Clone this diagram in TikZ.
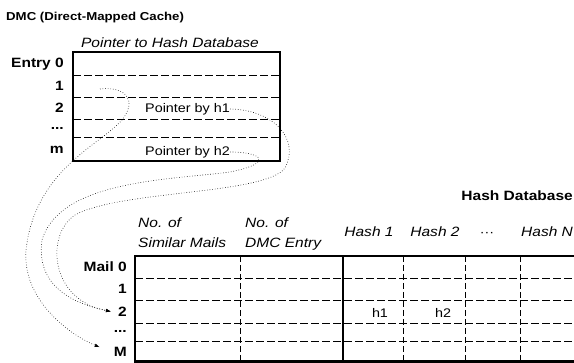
\documentclass[tikz,border=0pt]{standalone}
\usepackage{fontspec}
\setmainfont{Liberation Sans}
\newfontfamily\widefont[FakeStretch=1.15]{Liberation Sans}
\usetikzlibrary{arrows.meta}

\begin{document}
\begin{tikzpicture}[x=1pt,y=-1pt,
  frame/.style={line width=2.5pt},
  rowline/.style={line width=0.8pt,dash pattern=on 7.5pt off 3.5pt},
  colline/.style={line width=0.8pt,dash pattern=on 6pt off 3pt},
  lab/.style={font=\widefont\fontsize{13.5}{15}\selectfont\bfseries,anchor=east,inner sep=0pt},
  head/.style={font=\widefont\fontsize{13.5}{20}\selectfont\itshape,anchor=west,inner sep=0pt,align=left},
  txt/.style={font=\widefont\fontsize{12.5}{15}\selectfont,inner sep=0pt},
  link/.style={dotted,line width=0.6pt,-{Latex[length=5pt,width=3.5pt]}}]
\useasboundingbox (0,0) rectangle (574,363);
\clip (0,0) rectangle (574,363);

% direct-mapped cache
\node[anchor=base west,inner sep=0pt,font=\widefont\fontsize{11.5}{13}\selectfont\bfseries] (dmctitle) at (6,21) {DMC (Direct-Mapped Cache)};
\node[head,anchor=base] (ptrhead) at (170,48) {Pointer to Hash Database};
\foreach \y in {75,97,119,137}
  \draw[rowline] (73,\y) -- (280,\y);
\draw[frame] (73,52) rectangle (280,161);

\node[lab] (entry0) at (64,64) {Entry 0};
\node[lab] (entry1) at (64,86) {1};
\node[lab] (entry2) at (64,108) {2};
\node[lab] (entrydots) at (64,128) {...};
\node[lab] (entrym) at (64,150) {m};

\node[txt,anchor=west] (ptrone) at (145,109) {Pointer by h1};
\node[txt,anchor=west] (ptrtwo) at (145,152) {Pointer by h2};
\coordinate (slotone) at (100,89);

% hash database
\node[lab,anchor=base east] (hashtitle) at (573,201) {Hash Database};
\node[head,anchor=base west] (colsim) at (138,248) {No. of\\Similar Mails};
\node[head,anchor=base west] (coldmc) at (245,248) {No. of\\DMC Entry};
\node[head,anchor=base] (colhone) at (369,237) {Hash 1};
\node[head,anchor=base] (colhtwo) at (435,237) {Hash 2};
\node[txt,anchor=base] (coldots) at (487,237) {\textperiodcentered\textperiodcentered\textperiodcentered};
\node[head,anchor=base west] (colhn) at (521,237) {Hash N};

\foreach \y in {278,300,323,341}
  \draw[rowline] (135,\y) -- (600,\y);
\foreach \x in {240,403,465,520}
  \draw[colline] (\x,256) -- (\x,361.5);
\draw[frame] (343,256) -- (343,361.5);
\draw[frame] (600,256) -- (135,256) -- (135,361.5) -- (600,361.5);

\node[lab] (mail0) at (127,267) {Mail 0};
\node[lab] (mail1) at (127,289) {1};
\node[lab] (mail2) at (127,311.5) {2};
\node[lab] (maildots) at (127,331) {...};
\node[lab] (mailm) at (127,352) {M};

\node[txt] (hone) at (380,313) {h1};
\node[txt] (htwo) at (443,313) {h2};

% pointers
\draw[link] (slotone) .. controls (125,86) and (138,100) .. (122,120)
  .. controls (100,145) and (35,170) .. (26,250)
  .. controls (22,300) and (70,335) .. ([xshift=-14pt]mailm.north west);
\draw[link] (ptrtwo.east) .. controls (262,152) and (275,163) .. (230,172)
  .. controls (170,180) and (60,180) .. (42,240)
  .. controls (35,290) and (80,305) .. ([xshift=-7pt]mail2.west);
\draw[link] (ptrone.east) .. controls (275,110) and (300,140) .. (285,168)
  .. controls (265,195) and (120,190) .. (75,215)
  .. controls (45,235) and (50,300) .. ([xshift=-7pt]mail2.west);
\end{tikzpicture}
\end{document}
